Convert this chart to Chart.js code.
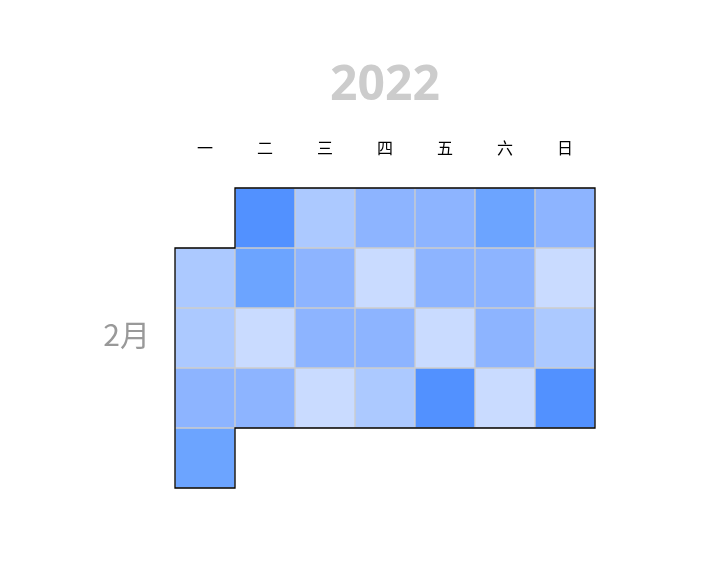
<!DOCTYPE html>
<html>
<head>
<meta charset="utf-8">
<script src="https://cdn.jsdelivr.net/npm/chart.js@4"></script>
<style>
  html, body { margin: 0; padding: 0; background: #fff; }
  #wrap { width: 723px; height: 577px; }
</style>
</head>
<body>
<div id="wrap"><canvas id="chart" width="723" height="577"></canvas></div>
<script>
// Calendar heatmap, February 2022 (week starts Monday)
const yearLabel = '2022';
const monthLabel = '2月';
const weekdayLabels = ['一', '二', '三', '四', '五', '六', '日'];
const firstWeekday = 1; // Feb 1 2022 is a Tuesday
// one value per day, Feb 1 .. Feb 28 (visual level 1-5)
const dayValues = [
  5, 2, 3, 3, 4, 3,
  2, 4, 3, 1, 3, 3, 1,
  2, 1, 3, 3, 1, 3, 2,
  3, 3, 1, 2, 5, 1, 5,
  4
];
const levelColors = ['#c9dbff', '#acc9ff', '#8db4ff', '#6ca4ff', '#5291ff'];

// build one floating-bar dataset per calendar week
const weekCount = Math.ceil((firstWeekday + dayValues.length) / 7);
const datasets = [];
for (let w = 0; w < weekCount; w++) {
  const data = [];
  const colors = [];
  for (let d = 0; d < 7; d++) {
    const idx = w * 7 + d - firstWeekday;
    if (idx >= 0 && idx < dayValues.length) {
      data.push([w, w + 1]);
      colors.push(levelColors[dayValues[idx] - 1]);
    } else {
      data.push(null);
      colors.push('rgba(0,0,0,0)');
    }
  }
  datasets.push({
    label: 'week ' + (w + 1),
    data: data,
    backgroundColor: colors,
    borderColor: '#cccccc',
    borderWidth: 1,
    borderSkipped: false,
    grouped: false,
    categoryPercentage: 1,
    barPercentage: 1
  });
}

// month outline + year / weekday / month labels
const calendarDecor = {
  id: 'calendarDecor',
  afterDatasetsDraw(chart) {
    const ctx = chart.ctx;
    const xs = chart.scales.x;
    const ys = chart.scales.y;
    const half = (xs.getPixelForValue(1) - xs.getPixelForValue(0)) / 2;
    const colL = i => xs.getPixelForValue(i) - half;
    const rowY = r => ys.getPixelForValue(r);

    const lastIdx = firstWeekday + dayValues.length - 1;
    const lastRow = Math.floor(lastIdx / 7);
    const lastCol = lastIdx % 7;

    ctx.save();
    ctx.strokeStyle = '#000';
    ctx.lineWidth = 1.3;
    ctx.beginPath();
    ctx.moveTo(colL(firstWeekday), rowY(0));
    ctx.lineTo(colL(7), rowY(0));
    ctx.lineTo(colL(7), rowY(lastRow));
    ctx.lineTo(colL(lastCol + 1), rowY(lastRow));
    ctx.lineTo(colL(lastCol + 1), rowY(lastRow + 1));
    ctx.lineTo(colL(0), rowY(lastRow + 1));
    ctx.lineTo(colL(0), rowY(1));
    ctx.lineTo(colL(firstWeekday), rowY(1));
    ctx.closePath();
    ctx.stroke();

    const area = chart.chartArea;
    const cx = (area.left + area.right) / 2;

    ctx.textAlign = 'center';
    ctx.textBaseline = 'middle';
    ctx.fillStyle = '#cccccc';
    ctx.font = 'bold 48px "Open Sans", sans-serif';
    ctx.fillText(yearLabel, cx, area.top - 102);

    ctx.fillStyle = '#000';
    ctx.font = '16px "Noto Sans CJK SC", sans-serif';
    weekdayLabels.forEach((lab, i) => {
      ctx.fillText(lab, xs.getPixelForValue(i), area.top - 40);
    });

    ctx.fillStyle = '#999999';
    ctx.textAlign = 'right';
    ctx.font = '30px "Noto Sans CJK SC", sans-serif';
    ctx.fillText(monthLabel, area.left - 25, (area.top + area.bottom) / 2 - 3);
    ctx.restore();
  }
};

new Chart(document.getElementById('chart'), {
  type: 'bar',
  data: { labels: weekdayLabels, datasets: datasets },
  options: {
    responsive: false,
    animation: false,
    layout: { padding: { left: 175, right: 128, top: 188, bottom: 89 } },
    plugins: { legend: { display: false }, tooltip: { enabled: false } },
    scales: {
      x: { display: false, offset: true },
      y: { display: false, min: 0, max: weekCount, reverse: true }
    }
  },
  plugins: [calendarDecor]
});
</script>
</body>
</html>
